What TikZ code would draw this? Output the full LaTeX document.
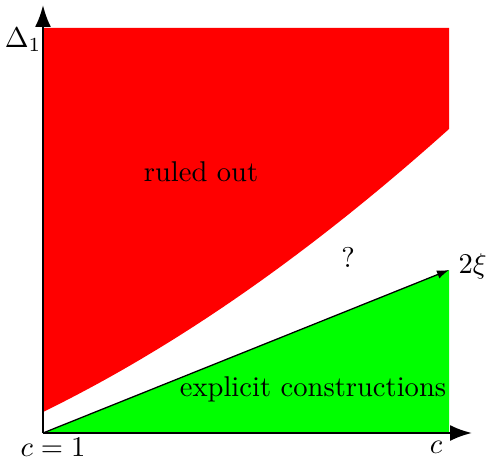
\documentclass[tikz,border=0pt]{standalone}
\usetikzlibrary{arrows.meta}
\begin{document}
\begin{tikzpicture}[x=0.35pt,y=-0.35pt,
  axis/.style={line width=0.8pt,-{Latex[length=7.7pt,width=5.6pt]}},
  diag/.style={line width=0.45pt,-{Latex[length=4.2pt,width=3pt]}},
  lbl/.style={inner sep=0pt,font=\normalsize}]
\useasboundingbox (0,0) rectangle (488,459);
\coordinate (O) at (43,433);
\coordinate (Ytop) at (43,5);
\coordinate (Xend) at (472,433);
\coordinate (G) at (449,270);
\coordinate (Gb) at (449,433);
\coordinate (R1) at (43,28);
\coordinate (R2) at (449,28);
\coordinate (R3) at (449,129);
\coordinate (R4) at (43,412);
% red region
\fill[red] (R1) -- (R2) -- (R3) .. controls (314,250) and (180,345) .. (R4) -- cycle;
% green region
\fill[green] (O) -- (G) -- (Gb) -- cycle;
% axes
\draw[axis] (O) -- (Ytop);
\draw[axis] (O) -- (Xend);
\draw[diag] (O) -- (G);
% labels
\node[lbl,anchor=east] (d1) at (42,40) {$\Delta_1$};
\node[lbl] (c1) at (53,447) {$c=1$};
\node[lbl] (c) at (436,447) {$c$};
\node[lbl,anchor=west] (xi) at (458,266) {$2\xi$};
\node[lbl] (q) at (348,257) {?};
\node[lbl] (ro) at (201,172) {ruled out};
\node[lbl] (ec) at (313,389) {explicit constructions};
\end{tikzpicture}
\end{document}
